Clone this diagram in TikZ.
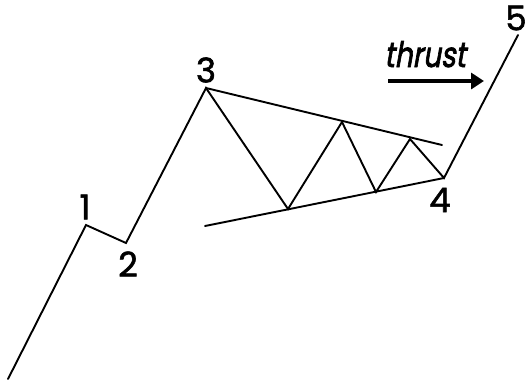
\documentclass[tikz,border=0pt]{standalone}
\usepackage{fontspec}
\setmainfont{Poppins}[FakeBold=1.6]
\newfontfamily\thrustfont[FakeSlant=0.22,FakeBold=2.2]{Poppins}
\usetikzlibrary{arrows.meta}
\begin{document}
\begin{tikzpicture}[x=1pt,y=-1pt,
  wave/.style={line width=1.9pt,line join=miter,line cap=round},
  lbl/.style={font=\bfseries\fontsize{34}{34}\selectfont,inner sep=0pt},
  thr/.style={line width=3.6pt,-{Triangle[length=13pt,width=16pt]}}]
\useasboundingbox (0,0) rectangle (526,383);
\coordinate (s) at (8,379);
\coordinate (p1) at (86,225);
\coordinate (p2) at (126,243);
\coordinate (p3) at (206,88);
\coordinate (a) at (288,209);
\coordinate (b) at (342,122);
\coordinate (c) at (376,192);
\coordinate (d) at (410,139);
\coordinate (p4) at (444,178);
\coordinate (p5) at (518,35);
\coordinate (ue) at (442,145);
\coordinate (ls) at (205,226);
\draw[wave] (s) -- (p1) -- (p2) -- (p3) -- (a) -- (b) -- (c) -- (d) -- (p4) -- (p5);
\draw[wave] (p3) -- (ue);
\draw[wave] (ls) -- (p4);
\node[lbl] (l1) at (85,207) {\mdseries 1};
\node[lbl] (l2) at (128,264) {\mdseries 2};
\node[lbl] (l3) at (206,70) {\mdseries 3};
\node[lbl] (l4) at (440,200) {\mdseries 4};
\node[lbl] (l5) at (516,18) {\mdseries 5};
\node[inner sep=0pt,anchor=base,xscale=0.8,transform shape,font=\thrustfont\fontsize{35}{35}\selectfont] (t) at (425,67) {thrust};
\coordinate (ta) at (388,81);
\coordinate (tb) at (484,81);
\draw[thr] (ta) -- (tb);
\end{tikzpicture}
\end{document}
